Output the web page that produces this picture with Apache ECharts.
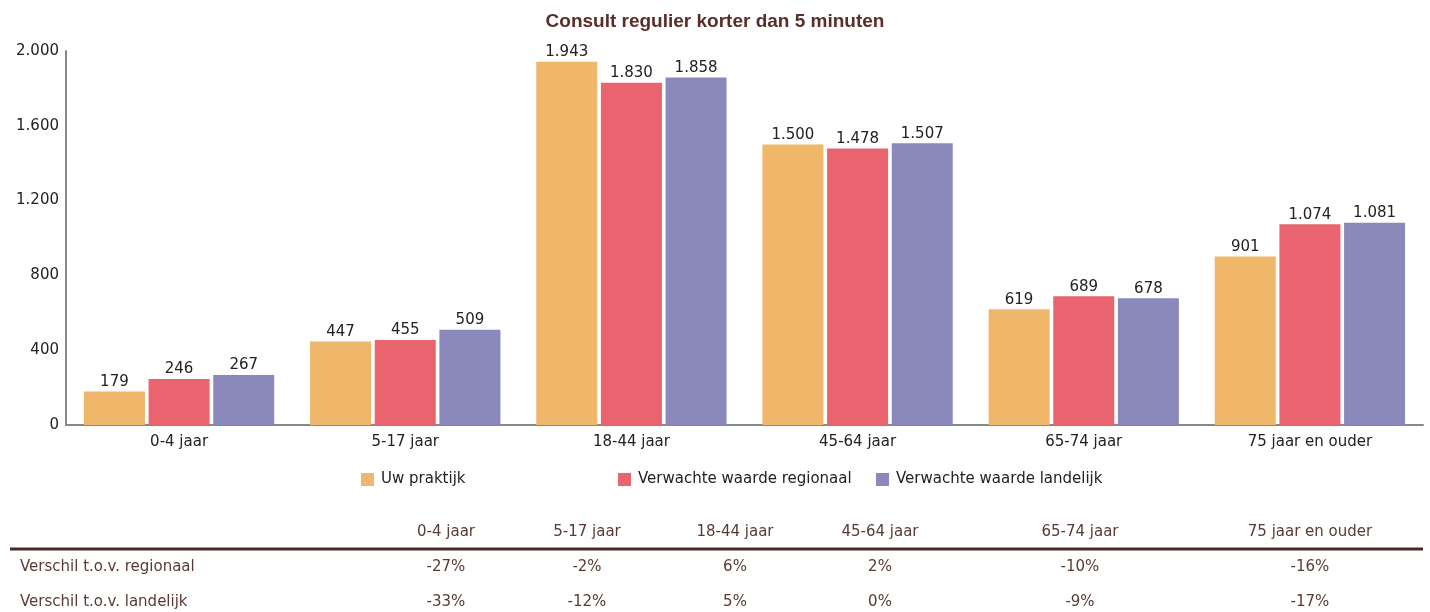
<!DOCTYPE html>
<html>
<head>
<meta charset="utf-8">
<script src="https://cdn.jsdelivr.net/npm/echarts@6/dist/echarts.min.js"></script>
<style>
  html, body { margin: 0; padding: 0; background: #fff; }
  #chart { width: 1430px; height: 612px; }
</style>
</head>
<body>
<div id="chart"></div>
<script>
// data
var categories = ['0-4 jaar', '5-17 jaar', '18-44 jaar', '45-64 jaar', '65-74 jaar', '75 jaar en ouder'];
var uwPraktijk = [179, 447, 1943, 1500, 619, 901];
var regionaal = [246, 455, 1830, 1478, 689, 1074];
var landelijk = [267, 509, 1858, 1507, 678, 1081];
var verschilRegionaal = ['-27%', '-2%', '6%', '2%', '-10%', '-16%'];
var verschilLandelijk = ['-33%', '-12%', '5%', '0%', '-9%', '-17%'];
var rowLabels = ['Verschil t.o.v. regionaal', 'Verschil t.o.v. landelijk'];

var font = 'DejaVu Sans';
var brown = '#5a3a36';
var fmt = function (v) {
  return String(v).replace(/\B(?=(\d{3})+(?!\d))/g, '.');
};

var myChart = echarts.init(document.getElementById('chart'));

// table under the chart (columns centred as in the original)
var colX = [446, 587, 735, 880, 1080, 1310];
var graphics = [];
categories.forEach(function (c, i) {
  graphics.push({ type: 'text', x: colX[i], y: 532, style: { text: c, fill: brown, font: '15px ' + font, textAlign: 'center', textVerticalAlign: 'middle' } });
  graphics.push({ type: 'text', x: colX[i], y: 567, style: { text: verschilRegionaal[i], fill: brown, font: '15px ' + font, textAlign: 'center', textVerticalAlign: 'middle' } });
  graphics.push({ type: 'text', x: colX[i], y: 602, style: { text: verschilLandelijk[i], fill: brown, font: '15px ' + font, textAlign: 'center', textVerticalAlign: 'middle' } });
});
rowLabels.forEach(function (r, i) {
  graphics.push({ type: 'text', x: 20, y: 567 + i * 35, style: { text: r, fill: brown, font: '15px ' + font, textAlign: 'left', textVerticalAlign: 'middle' } });
});
graphics.push({ type: 'line', shape: { x1: 10, y1: 549, x2: 1423, y2: 549 }, style: { stroke: '#4a2a26', lineWidth: 3 } });

function legendAt(name, left) {
  return {
    data: [name], left: left, top: 467, icon: 'rect', itemWidth: 13, itemHeight: 13, itemGap: 8,
    textStyle: { fontFamily: font, fontSize: 15, color: '#222', padding: [0, 0, 0, 2] }
  };
}

var seriesStyle = function (name, data, color) {
  return {
    name: name, type: 'bar', data: data, barWidth: 61, barGap: '6%',
    itemStyle: { color: color },
    label: { show: true, position: 'top', distance: 2, fontFamily: font, fontSize: 15, color: '#222', formatter: function (p) { return fmt(p.value); } }
  };
};

var options = {
  animation: false,
  title: {
    text: 'Consult regulier korter dan 5 minuten', left: 'center', top: 7,
    textStyle: { fontFamily: 'Liberation Sans', fontSize: 19, fontWeight: 'bold', color: '#5b2d2a' }
  },
  legend: [
    legendAt('Uw praktijk', 356),
    legendAt('Verwachte waarde regionaal', 613),
    legendAt('Verwachte waarde landelijk', 871)
  ],
  grid: { left: 66, right: 7, top: 51, bottom: 187 },
  xAxis: {
    type: 'category', data: categories,
    axisLine: { lineStyle: { color: '#888', width: 2 } },
    axisTick: { show: false },
    axisLabel: { fontFamily: font, fontSize: 15, color: '#222', margin: 10 }
  },
  yAxis: {
    type: 'value', min: 0, max: 2000, interval: 400,
    axisLine: { show: true, lineStyle: { color: '#888', width: 2 } },
    axisTick: { show: false },
    splitLine: { show: false },
    axisLabel: { fontFamily: font, fontSize: 15, color: '#222', margin: 7, formatter: fmt }
  },
  series: [
    seriesStyle('Uw praktijk', uwPraktijk, '#f0b66a'),
    seriesStyle('Verwachte waarde regionaal', regionaal, '#ea6470'),
    seriesStyle('Verwachte waarde landelijk', landelijk, '#8b88bc')
  ],
  graphic: graphics
};

myChart.setOption(options);
</script>
</body>
</html>
